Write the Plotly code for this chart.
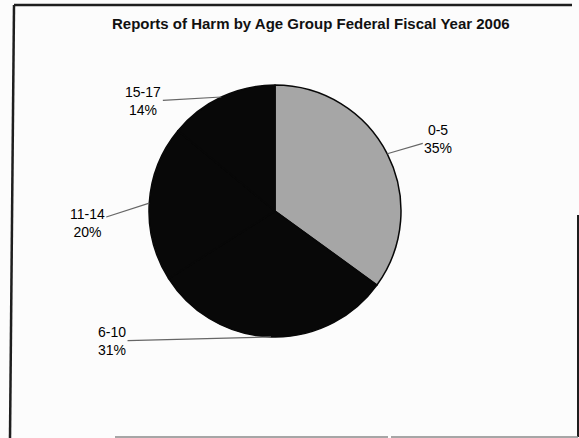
import math
import plotly.graph_objects as go

# ---- data ----
labels = ["0-5", "6-10", "11-14", "15-17"]
percent = [35, 31, 20, 14]
title_text = "Reports of Harm by Age Group Federal Fiscal Year 2006"

# ---- layout constants ----
W, H = 579, 438
CX, CY, R = 275, 211, 126
slice_colors = ["#a6a6a6", "#080808", "#080808", "#080808"]
# label-centre offsets (pixels) from the slice's outer midpoint
label_offsets = [(51, -15), (-159, 4), (-62, 20), (-78, 4.5)]


def px(x):
    return x / W


def py(y):
    return 1 - y / H


fig = go.Figure(
    go.Pie(
        labels=labels,
        values=percent,
        sort=False,
        direction="clockwise",
        rotation=0,
        textinfo="none",
        hoverinfo="label+percent",
        marker=dict(colors=slice_colors, line=dict(color="#080808", width=1.5)),
        domain=dict(x=[px(CX - R), px(CX + R)], y=[py(CY + R), py(CY - R)]),
        showlegend=False,
    )
)

# leader-line labels computed from slice angles
total = sum(percent)
cum = 0
annotations = []
for lab, val, (dx, dy) in zip(labels, percent, label_offsets):
    mid = (cum + val / 2) / total * 2 * math.pi
    cum += val
    ex = CX + R * math.sin(mid)
    ey = CY - R * math.cos(mid)
    annotations.append(
        dict(
            x=px(ex), y=py(ey), xref="paper", yref="paper",
            text=f"{lab}<br>{round(val / total * 100)}%",
            showarrow=True, arrowhead=0, arrowwidth=1.2, arrowcolor="#666",
            standoff=0, ax=dx, ay=dy,
            font=dict(family="Liberation Sans, Arial", size=14, color="#000"),
            align="center",
        )
    )

annotations.append(
    dict(
        x=px(311), y=py(23), xref="paper", yref="paper",
        xanchor="center", yanchor="middle", showarrow=False,
        text=f"<b>{title_text}</b>",
        font=dict(family="Liberation Sans, Arial", size=15, color="#111"),
    )
)

frame = "#1e1e1e"
shapes = [
    dict(type="line", xref="paper", yref="paper", x0=px(14), y0=py(5), x1=px(572), y1=py(5),
         line=dict(color=frame, width=2.5)),
    dict(type="line", xref="paper", yref="paper", x0=px(14), y0=py(5), x1=px(10), y1=py(438),
         line=dict(color=frame, width=2.5)),
    dict(type="line", xref="paper", yref="paper", x0=px(578), y0=py(215), x1=px(578), y1=py(437),
         line=dict(color=frame, width=2)),
    dict(type="line", xref="paper", yref="paper", x0=px(115), y0=py(437), x1=px(388), y1=py(437),
         line=dict(color="#8a8a8a", width=1.5)),
    dict(type="line", xref="paper", yref="paper", x0=px(391), y0=py(437), x1=px(578), y1=py(437),
         line=dict(color="#8a8a8a", width=1.5)),
]

fig.update_layout(
    width=W, height=H,
    margin=dict(l=0, r=0, t=0, b=0),
    paper_bgcolor="#fcfcfc",
    plot_bgcolor="#fcfcfc",
    annotations=annotations,
    shapes=shapes,
)

fig.write_html("out.html")
